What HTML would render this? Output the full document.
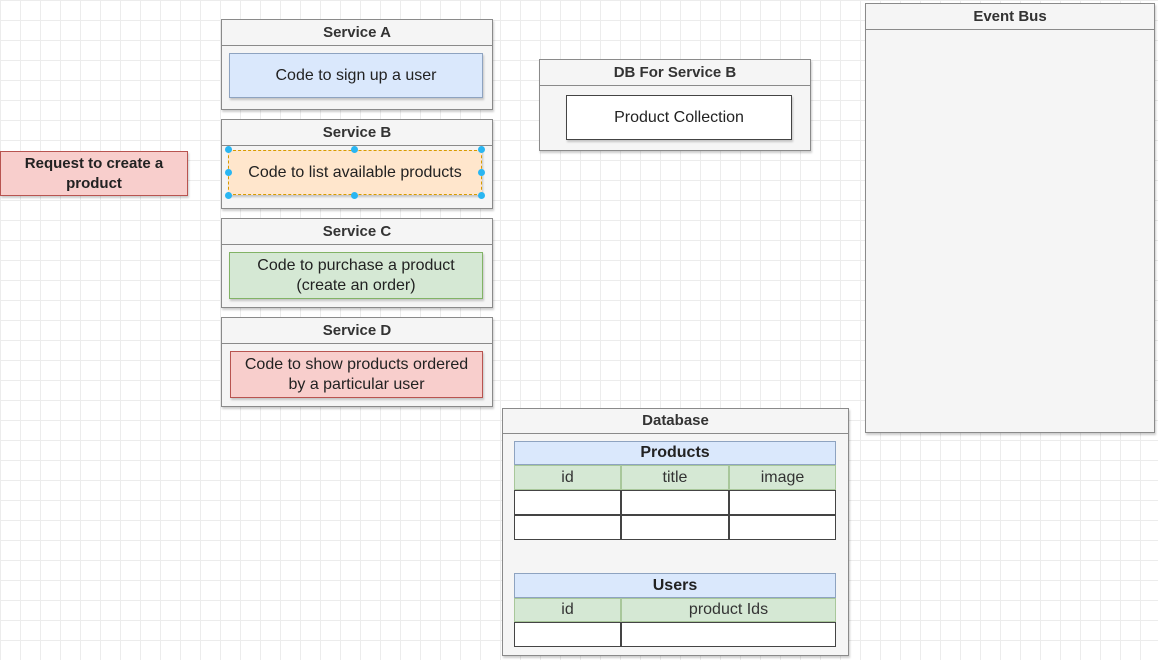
<!DOCTYPE html>
<html><head><style>
body{margin:0;width:1158px;height:660px;overflow:hidden;background:#fff;
background-image:linear-gradient(#ececec 1px,transparent 1px),linear-gradient(90deg,#ececec 1px,transparent 1px);background-size:20px 20px;
font-family:"Liberation Sans",sans-serif;position:relative}
.a{position:absolute;box-sizing:border-box}
.c{background:#f5f5f5;border:1.5px solid #8a8a8a;box-shadow:1px 2px 2px rgba(0,0,0,.2)}
.h{position:absolute;left:0;right:0;top:0;border-bottom:1.5px solid #8a8a8a;text-align:center;font-weight:bold;font-size:15px;color:#333}
.b{display:flex;align-items:center;justify-content:center;text-align:center;font-size:16px;color:#222;border:1.5px solid #999;box-shadow:1px 2px 2px rgba(0,0,0,.2);line-height:20px}
.t{display:flex;align-items:center;justify-content:center;font-size:16px;color:#333;border:1px solid #888}
.d{position:absolute;width:7px;height:7px;border-radius:50%;background:#29b6f2}
</style></head><body>
<div class="a b" style="left:0;top:151px;width:188px;height:45px;background:#f8cecc;font-weight:bold;font-size:15px;border-color:#b85450">Request to create a<br>product</div>

<div class="a c" style="left:221px;top:19px;width:272px;height:91px"><div class="h" style="height:25px;line-height:25px">Service A</div></div>
<div class="a b" style="left:229px;top:53px;width:254px;height:45px;background:#dae8fc;border-color:#8ea3c0">Code to sign up a user</div>

<div class="a c" style="left:221px;top:119px;width:272px;height:90px"><div class="h" style="height:25px;line-height:25px">Service B</div></div>
<div class="a b" style="left:228px;top:150px;width:254px;height:45px;background:#ffe6cc;border:1.5px dashed #d79b00">Code to list available products</div>
<div class="d" style="left:225px;top:146px"></div><div class="d" style="left:351px;top:146px"></div><div class="d" style="left:478px;top:146px"></div>
<div class="d" style="left:225px;top:169px"></div><div class="d" style="left:478px;top:169px"></div>
<div class="d" style="left:225px;top:192px"></div><div class="d" style="left:351px;top:192px"></div><div class="d" style="left:478px;top:192px"></div>

<div class="a c" style="left:221px;top:218px;width:272px;height:90px"><div class="h" style="height:25px;line-height:25px">Service C</div></div>
<div class="a b" style="left:229px;top:252px;width:254px;height:47px;background:#d5e8d4;border-color:#82b366">Code to purchase a product<br>(create an order)</div>

<div class="a c" style="left:221px;top:317px;width:272px;height:90px"><div class="h" style="height:25px;line-height:25px">Service D</div></div>
<div class="a b" style="left:230px;top:351px;width:253px;height:47px;background:#f8cecc;border-color:#b85450">Code to show products ordered<br>by a particular user</div>

<div class="a c" style="left:539px;top:59px;width:272px;height:92px"><div class="h" style="height:25px;line-height:25px">DB For Service B</div></div>
<div class="a b" style="left:566px;top:95px;width:226px;height:45px;background:#fff;border-color:#444">Product Collection</div>

<div class="a c" style="left:865px;top:3px;width:290px;height:430px"><div class="h" style="height:25px;line-height:25px">Event Bus</div></div>

<div class="a c" style="left:502px;top:408px;width:347px;height:248px"><div class="h" style="height:24px;line-height:24px">Database</div></div>
<div class="a t" style="left:514px;top:441px;width:322px;height:24px;background:#dae8fc;font-weight:bold;border-color:#8ea3c0;color:#222">Products</div>
<div class="a t" style="left:514px;top:465px;width:107px;height:25px;background:#d5e8d4;border-color:#a8c79a">id</div>
<div class="a t" style="left:621px;top:465px;width:108px;height:25px;background:#d5e8d4;border-color:#a8c79a">title</div>
<div class="a t" style="left:729px;top:465px;width:107px;height:25px;background:#d5e8d4;border-color:#a8c79a">image</div>
<div class="a t" style="left:514px;top:490px;width:107px;height:25px;background:#fff;border-color:#444"></div>
<div class="a t" style="left:621px;top:490px;width:108px;height:25px;background:#fff;border-color:#444"></div>
<div class="a t" style="left:729px;top:490px;width:107px;height:25px;background:#fff;border-color:#444"></div>
<div class="a t" style="left:514px;top:515px;width:107px;height:25px;background:#fff;border-color:#444"></div>
<div class="a t" style="left:621px;top:515px;width:108px;height:25px;background:#fff;border-color:#444"></div>
<div class="a t" style="left:729px;top:515px;width:107px;height:25px;background:#fff;border-color:#444"></div>

<div class="a t" style="left:514px;top:573px;width:322px;height:25px;background:#dae8fc;font-weight:bold;border-color:#8ea3c0;color:#222">Users</div>
<div class="a t" style="left:514px;top:598px;width:107px;height:24px;background:#d5e8d4;border-color:#a8c79a">id</div>
<div class="a t" style="left:621px;top:598px;width:215px;height:24px;background:#d5e8d4;border-color:#a8c79a">product Ids</div>
<div class="a t" style="left:514px;top:622px;width:107px;height:25px;background:#fff;border-color:#444"></div>
<div class="a t" style="left:621px;top:622px;width:215px;height:25px;background:#fff;border-color:#444"></div>
</body></html>
